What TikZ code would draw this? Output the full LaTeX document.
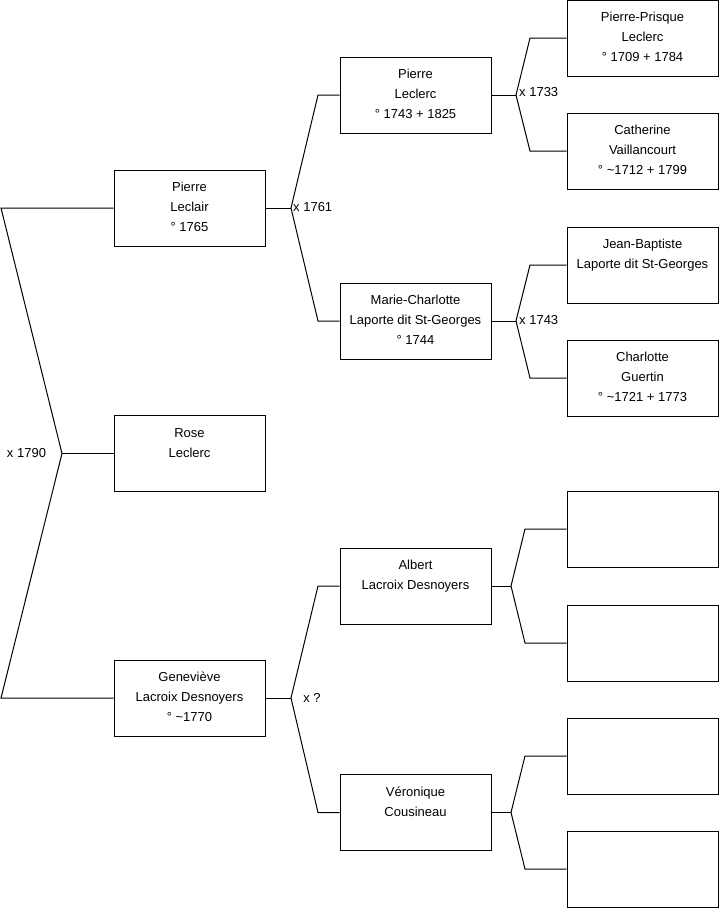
\documentclass[tikz,border=0pt]{standalone}
\usepackage{fontspec}
\setmainfont{Liberation Sans}
\newcommand{\tS}{\rule{0pt}{14pt}}
\newcommand{\bS}{\rule[-7pt]{0pt}{7pt}}
\newcommand{\tld}{\textasciitilde}
\tikzset{
  person/.style={draw=black, line width=1pt, fill=white, minimum width=151pt, minimum height=76pt,
    inner sep=0pt, align=center, font=\fontsize{13}{20}\selectfont},
  marr/.style={inner sep=1pt, font=\fontsize{13}{16}\selectfont},
  conn/.style={draw=black, line width=1pt}
}
\begin{document}
\begin{tikzpicture}[x=1pt,y=-1pt]
\useasboundingbox (0,0) rectangle (719,908);
% left column
\node[person] (pl) at (189.5,208) {\tS Pierre\\Leclair\\° 1765\bS};
\node[person] (rose) at (189.5,453.5) {\tS Rose\\Leclerc\\\bS};
\node[person] (gen) at (189.5,698) {\tS Geneviève\\Lacroix Desnoyers\\° \tld1770\bS};
% middle column
\node[person] (plc) at (415.5,95) {\tS Pierre\\Leclerc\\° 1743 + 1825\bS};
\node[person] (mc) at (415.5,321) {\tS Marie-Charlotte\\Laporte dit St-Georges\\° 1744\bS};
\node[person] (al) at (415.5,586) {\tS Albert\\Lacroix Desnoyers\\\bS};
\node[person] (ve) at (415.5,812.5) {\tS Véronique\\Cousineau\\\bS};
% right column
\node[person] (pp) at (642.5,38) {\tS Pierre-Prisque\\Leclerc\\° 1709 + 1784\bS};
\node[person] (cv) at (642.5,151) {\tS Catherine\\Vaillancourt\\° \tld1712 + 1799\bS};
\node[person] (jb) at (642.5,265) {\tS Jean-Baptiste\\Laporte dit St-Georges\\\bS};
\node[person] (cg) at (642.5,378) {\tS Charlotte\\Guertin\\° \tld1721 + 1773\bS};
\node[person] (r5) at (642.5,529) {};
\node[person] (r6) at (642.5,643) {};
\node[person] (r7) at (642.5,756) {};
\node[person] (r8) at (642.5,869) {};
% vertices
\coordinate (v0) at (62,453.5);
\coordinate (v1) at (291,208);
\coordinate (v2) at (516,95);
\coordinate (v3) at (516,321);
\coordinate (v4) at (291,698);
\coordinate (v5) at (511,586);
\coordinate (v6) at (511,812.5);
% connectors
\draw[conn] (pl.west) -- (1,208) -- (v0) -- (1,698) -- (gen.west);
\draw[conn] (v0) -- (rose.west);
\draw[conn] (pl.east) -- (v1);
\draw[conn] (plc.west) -- (318,95) -- (v1) -- (318,321) -- (mc.west);
\draw[conn] (plc.east) -- (v2);
\draw[conn] (pp.west) -- (530,38) -- (v2) -- (530,151) -- (cv.west);
\draw[conn] (mc.east) -- (v3);
\draw[conn] (jb.west) -- (530,265) -- (v3) -- (530,378) -- (cg.west);
\draw[conn] (gen.east) -- (v4);
\draw[conn] (al.west) -- (318,586) -- (v4) -- (318,812.5) -- (ve.west);
\draw[conn] (al.east) -- (v5);
\draw[conn] (r5.west) -- (525,529) -- (v5) -- (525,643) -- (r6.west);
\draw[conn] (ve.east) -- (v6);
\draw[conn] (r7.west) -- (525,756) -- (v6) -- (525,869) -- (r8.west);
% marriage labels
\node[marr] (m0) at (26.5,453) {x 1790};
\node[marr, anchor=west] (m1) at (292,207) {x 1761};
\node[marr, anchor=west] (m2) at (518,92) {x 1733};
\node[marr, anchor=west] (m3) at (518,320) {x 1743};
\node[marr] (m4) at (312,698) {x ?};
\end{tikzpicture}
\end{document}
